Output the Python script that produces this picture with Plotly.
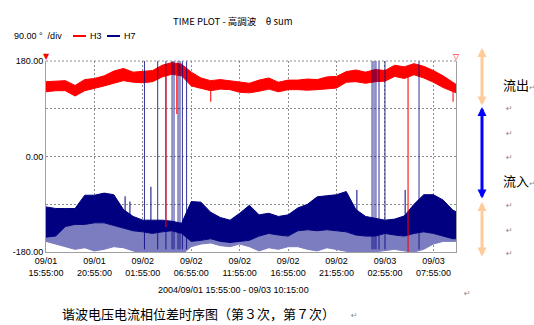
import pandas as pd
import plotly.graph_objects as go

START = pd.Timestamp("2004-09-01 15:55:00")
END = pd.Timestamp("2004-09-03 10:15:00")

# hourly records from the start plus the final record
TIMES = list(pd.date_range(START, periods=43, freq="h")) + [END]

# H3 phase difference (deg): per-interval max / min
H3_HI = [141, 142, 143, 134, 145, 147, 152, 161, 166, 159,
         160, 162, 172, 177, 174, 159, 148, 143, 145, 143,
         141, 138, 144, 148, 140, 144, 144, 146, 145, 150,
         151, 160, 163, 159, 164, 162, 172, 169, 175, 170,
         162, 152, 140, 136]
H3_LO = [122, 124, 124, 114, 124, 128, 133, 138, 143, 140,
         139, 141, 150, 155, 152, 133, 128, 124, 127, 126,
         121, 120, 123, 127, 122, 126, 126, 125, 126, 128,
         129, 140, 141, 138, 141, 142, 151, 147, 154, 148,
         140, 130, 122, 120]

# H7 phase difference (deg): upper edge, dense lower edge, lowest excursions
H7_TOP = [-95, -98, -98, -98, -73, -73, -69, -72, -100, -113,
          -120, -120, -120, -122, -126, -85, -86, -105, -115, -120,
          -107, -92, -110, -107, -113, -110, -97, -90, -76, -74,
          -72, -66, -100, -113, -116, -120, -118, -112, -90, -72,
          -72, -82, -101, -104]
H7_MID = [-152, -150, -132, -128, -128, -125, -125, -130, -135, -140,
          -142, -145, -142, -140, -145, -160, -158, -155, -160, -162,
          -160, -158, -150, -145, -148, -150, -140, -138, -140, -138,
          -140, -142, -148, -150, -150, -145, -148, -150, -145, -142,
          -145, -150, -155, -155]
H7_LOW = [-160, -165, -170, -175, -172, -178, -175, -170, -172, -178,
          -182, -182, -180, -182, -185, -170, -165, -163, -168, -170,
          -165, -170, -178, -172, -175, -170, -170, -175, -178, -172,
          -175, -178, -182, -182, -180, -178, -175, -178, -180, -175,
          -165, -160, -160, -160]

# H7 wrap-around events (+180 / -180 jumps)
H7_WRAP_T = ["2004-09-02 02:05", "2004-09-02 03:27", "2004-09-02 04:18",
             "2004-09-02 04:56", "2004-09-02 05:08", "2004-09-02 05:33",
             "2004-09-02 05:45", "2004-09-02 06:00", "2004-09-02 06:26",
             "2004-09-03 01:35", "2004-09-03 01:47", "2004-09-03 01:59",
             "2004-09-03 02:18", "2004-09-03 02:55", "2004-09-03 06:26"]
H7_WRAP_HI = 180
H7_WRAP_LO = -175

# short H7 excursions above the band
H7_SPIKE_T = ["2004-09-02 00:05", "2004-09-02 00:35", "2004-09-02 02:45",
              "2004-09-02 23:06", "2004-09-03 00:01", "2004-09-03 05:00"]
H7_SPIKE_FROM = [-110, -115, -120, -110, -110, -115]
H7_SPIKE_TO = [-75, -85, -57, -75, -63, -63]

# H3 drop-outs
H3_DIP_T = ["2004-09-02 04:18", "2004-09-02 05:25", "2004-09-02 08:55",
            "2004-09-03 05:18", "2004-09-03 09:57"]
H3_DIP_FROM = [170, 160, 135, 168, 128]
H3_DIP_TO = [-133, 80, 103, -180, 103]

# axis ticks
X_TICKS = list(pd.date_range(START, periods=9, freq="5h"))
X_TICK_TEXT = [f"{t:%m/%d}<br>{t:%H:%M:%S}" for t in X_TICKS]
Y_TICKS = [-180, -90, 0, 90, 180]
Y_TICK_TEXT = ["-180.00", "", "0.00", "", "180.00"]

NAVY = "#000080"
LIGHT_NAVY = "#7c7cc0"
RED = "#ff0000"
PEACH = "#ffcc99"
GRID = "#8c8c8c"
FRAME = "#a0a0a0"
MARK = "#8a8a8a"

# plot area in page pixels
PL, PR, PT, PB = 46, 456, 61, 252


def px(x):
    return (x - PL) / (PR - PL)


def py(y):
    return (PB - y) / (PB - PT)


def segments(ts, y0, y1):
    xs, ys = [], []
    for i, t in enumerate(ts):
        a = y0[i] if isinstance(y0, list) else y0
        b = y1[i] if isinstance(y1, list) else y1
        xs += [pd.Timestamp(t), pd.Timestamp(t), None]
        ys += [a, b, None]
    return xs, ys


fig = go.Figure()

# H3 band
fig.add_trace(go.Scatter(x=TIMES, y=H3_LO, mode="lines",
                         line=dict(color=RED, width=1), hoverinfo="skip"))
fig.add_trace(go.Scatter(x=TIMES, y=H3_HI, mode="lines",
                         line=dict(color=RED, width=1),
                         fill="tonexty", fillcolor=RED, name="H3"))

# H7 band: sparse lower excursions, then dense core
fig.add_trace(go.Scatter(x=TIMES, y=H7_LOW, mode="lines",
                         line=dict(color=LIGHT_NAVY, width=1), hoverinfo="skip"))
fig.add_trace(go.Scatter(x=TIMES, y=H7_MID, mode="lines",
                         line=dict(color=NAVY, width=1),
                         fill="tonexty", fillcolor=LIGHT_NAVY, hoverinfo="skip"))
fig.add_trace(go.Scatter(x=TIMES, y=H7_TOP, mode="lines",
                         line=dict(color=NAVY, width=1),
                         fill="tonexty", fillcolor=NAVY, name="H7"))

# H7 wrap-around verticals
wx, wy = segments(H7_WRAP_T, H7_WRAP_HI, H7_WRAP_LO)
fig.add_trace(go.Scatter(x=wx, y=wy, mode="lines", opacity=0.8,
                         line=dict(color=NAVY, width=1), hoverinfo="skip"))
sx, sy = segments(H7_SPIKE_T, H7_SPIKE_FROM, H7_SPIKE_TO)
fig.add_trace(go.Scatter(x=sx, y=sy, mode="lines",
                         line=dict(color=NAVY, width=1), hoverinfo="skip"))

# H3 drop-outs
dx, dy = segments(H3_DIP_T, H3_DIP_FROM, H3_DIP_TO)
fig.add_trace(go.Scatter(x=dx, y=dy, mode="lines", opacity=0.8,
                         line=dict(color=RED, width=1.3), hoverinfo="skip"))

fig.update_layout(
    width=534, height=325,
    margin=dict(l=PL, r=534 - PR, t=PT, b=325 - PB),
    paper_bgcolor="white", plot_bgcolor="white",
    showlegend=False,
    font=dict(family="Liberation Sans, Arial, sans-serif", size=9, color="black"),
)
fig.update_xaxes(
    range=[START, END], tickvals=X_TICKS, ticktext=X_TICK_TEXT,
    showgrid=True, gridcolor=GRID, griddash="2px,2px", gridwidth=1,
    showline=True, linecolor=FRAME, linewidth=1, ticks="", zeroline=False,
    tickfont=dict(size=9),
)
fig.update_yaxes(
    range=[-180, 180], tickvals=Y_TICKS, ticktext=Y_TICK_TEXT,
    showgrid=True, gridcolor=GRID, griddash="2px,2px", gridwidth=1,
    showline=True, mirror=True, linecolor=FRAME, linewidth=1,
    ticks="", zeroline=False, tickfont=dict(size=9),
)

shapes = [
    # dotted top edge of the plot frame
    dict(type="line", xref="paper", yref="paper", x0=0, x1=1, y0=1, y1=1,
         line=dict(color=GRID, width=1, dash="2px,2px")),
    # legend samples
    dict(type="line", xref="paper", yref="paper", x0=px(73), x1=px(86),
         y0=py(36), y1=py(36), line=dict(color=RED, width=2)),
    dict(type="line", xref="paper", yref="paper", x0=px(107), x1=px(120),
         y0=py(36), y1=py(36), line=dict(color=NAVY, width=2)),
]
fig.update_layout(shapes=shapes)

ann = []


def text(x, y, s, size=9, family=None, color="black", anchor="left"):
    f = dict(size=size, color=color)
    if family:
        f["family"] = family
    ann.append(dict(x=px(x), y=py(y), xref="paper", yref="paper", text=s,
                    showarrow=False, xanchor=anchor, yanchor="middle", font=f))


CJK_JP = "Noto Sans CJK JP"
CJK_SC = "Noto Sans CJK SC"
RET = f"<span style='font-size:7px;color:{MARK}'>↵</span>"

text(233, 21, "TIME PLOT - 高調波　θ sum", size=9.5, family=CJK_JP, anchor="center")
text(12, 36, "90.00 °  /div", size=9)
text(88, 36, "H3", size=9)
text(122, 36, "H7", size=9)
text(233, 290, "2004/09/01 15:55:00 - 09/03 10:15:00", size=9, anchor="center")
text(60, 313, "谐波电压电流相位差时序图（第３次，第７次）", size=13, family=CJK_SC)

# cursor markers
text(46, 57, "▼", size=8, color=RED, anchor="center", family="DejaVu Sans")
text(456, 57, "▽", size=8, color=RED, anchor="center", family="DejaVu Sans")

# flow direction labels
text(501, 84, "流出" + RET, size=13, family=CJK_SC)
text(501, 180, "流入" + RET, size=13, family=CJK_SC)
for yy in [108, 133, 157, 205, 230, 253]:
    text(504, yy, "↵", size=8, color=MARK, family="DejaVu Sans")
text(462, 293, "↵", size=8, color=MARK, family="DejaVu Sans")
text(349, 315, "↵", size=8, color=MARK, family="DejaVu Sans")


def arrow(x, y0, y1, color):
    ann.append(dict(x=px(x), y=py(y0), xref="paper", yref="paper",
                    ax=0, ay=y1 - y0, axref="pixel", ayref="pixel",
                    text="", showarrow=True, arrowcolor=color,
                    arrowwidth=3, arrowhead=2, arrowsize=0.6,
                    arrowside="end+start", startarrowhead=2,
                    startarrowsize=0.6))


arrow(482, 48, 107, PEACH)
arrow(482, 107, 200, "#0000ff")
arrow(482, 202, 258, PEACH)

fig.update_layout(annotations=ann)

fig.write_html("out.html")
